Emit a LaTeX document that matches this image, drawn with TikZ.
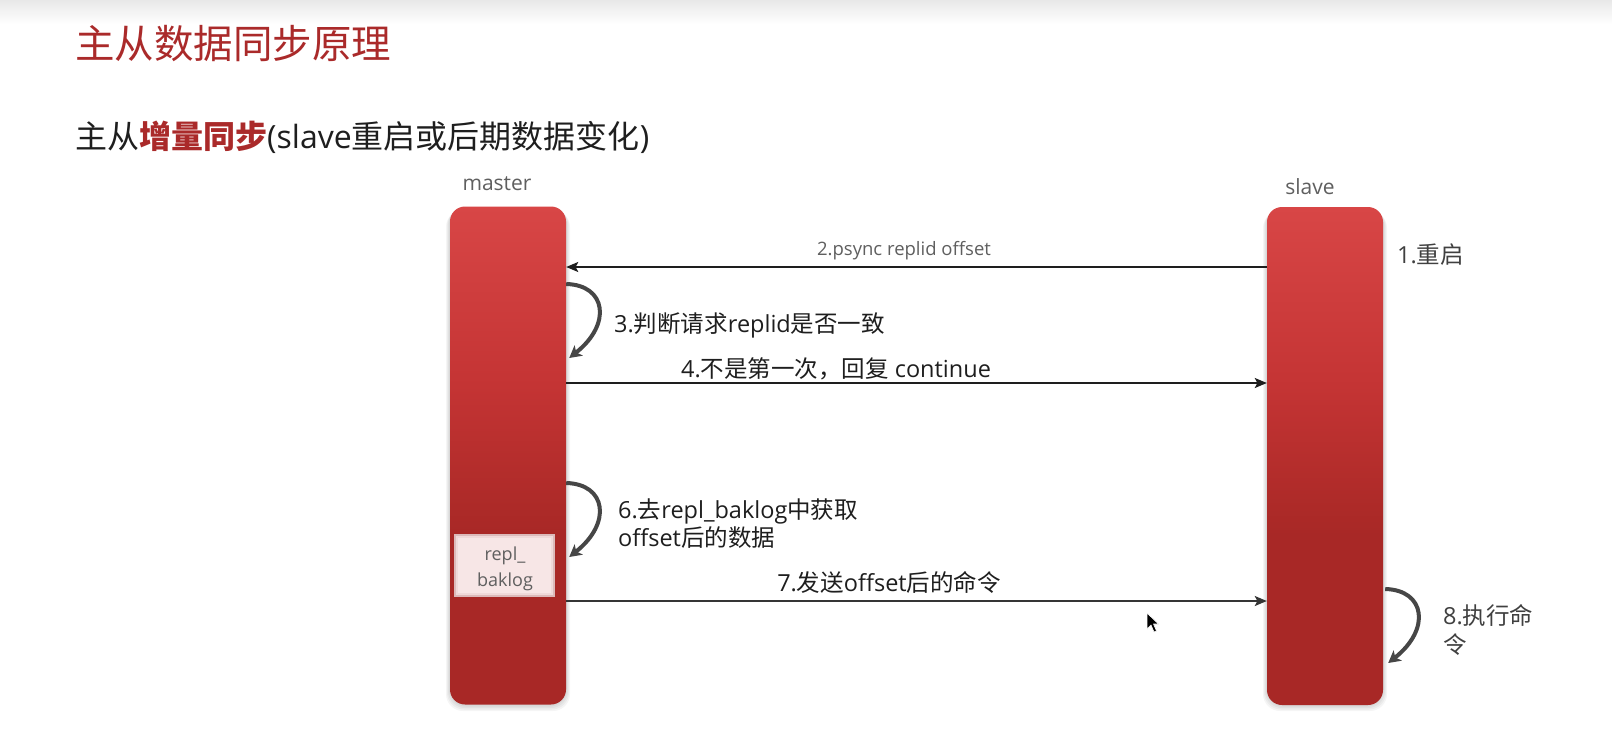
\documentclass[tikz,border=0pt]{standalone}
\usepackage{fontspec}
\setmainfont{Open Sans}
\newfontfamily\zhfont{Noto Sans CJK SC}
\newcommand{\zh}[1]{{\zhfont #1}}
\usetikzlibrary{arrows.meta,calc}

\definecolor{titlered}{RGB}{170,42,42}
\definecolor{barTop}{RGB}{216,70,70}
\definecolor{barUpper}{RGB}{196,52,52}
\definecolor{barLower}{RGB}{175,43,41}
\definecolor{barBottom}{RGB}{168,40,38}
\definecolor{ink}{RGB}{30,30,30}
\definecolor{softink}{RGB}{95,95,95}
\definecolor{loopgray}{RGB}{70,70,70}
\definecolor{logfill}{RGB}{247,230,230}
\definecolor{logedge}{RGB}{220,186,186}

% vertical colour ramp of the two process bars (25bp..75bp = bar extent)
\pgfdeclareverticalshading{barshade}{100bp}{color(0bp)=(barBottom); color(42bp)=(barBottom); color(46bp)=(barLower); color(57bp)=(barUpper); color(75bp)=(barTop); color(100bp)=(barTop)}

\tikzset{
  bar/.style={rectangle, rounded corners=15pt, minimum width=116pt, minimum height=498pt,
    inner sep=0pt, shade, shading=barshade},
  barshadow/.style={fill=black, opacity=0.04, rounded corners=17pt},
  msg/.style={line width=1.6pt, draw=ink, -{Stealth[length=12pt,width=10pt,inset=2.5pt]}},
  turn/.style={line width=4pt, draw=loopgray, -{Stealth[length=12pt,width=13pt,inset=3pt]}},
  lbl/.style={font=\fontsize{23.5}{28}\selectfont, text=ink, inner sep=0pt},
  smalllbl/.style={font=\fontsize{18.5}{22}\selectfont, text=softink, inner sep=0pt},
  rolelbl/.style={font=\fontsize{21}{25}\selectfont, text=softink, inner sep=0pt},
  turnloop/.pic={\draw[turn] (0,0) .. controls (40,1) and (46,40) .. (3,74);}
}

\begin{document}
\begin{tikzpicture}[x=1pt,y=-1pt]
  \useasboundingbox (0,0) rectangle (1612,731);
  \fill[white] (0,0) rectangle (1612,731);
  \shade[top color=black!9, bottom color=white] (0,0) rectangle (1612,24);

  % headings
  \node[anchor=west, inner sep=0pt, text=titlered, font=\zhfont\fontsize{39.5}{44}\selectfont] (title) at (75,44) {主从数据同步原理};
  \node[anchor=west, inner sep=0pt, text=ink, font=\fontsize{32}{36}\selectfont] (subtitle) at (75,137)
    {\zh{主从}{\zhfont\bfseries\color{titlered}增量同步}(slave\zh{重启或后期数据变化})};

  % soft shadows under the bars
  \foreach \g in {1,...,4} {
    \fill[barshadow] (450-\g,206+\g) rectangle (566+\g,705+1.5*\g);
    \fill[barshadow] (1267-\g,207+\g) rectangle (1383+\g,705+1.5*\g);
  }

  % process bars
  \node[bar] (master) at (508,455.5) {};
  \node[bar] (slave) at (1325,456) {};
  \node[rolelbl] (masterlbl) at (497,184) {master};
  \node[rolelbl] (slavelbl) at (1310,187) {slave};

  % backlog buffer inside master
  \fill[logedge] (454,534) rectangle (555,597);
  \fill[logfill!70!logedge] (456,536) rectangle (553,595);
  \fill[logfill] (458,538) rectangle (551,593);
  \node[font=\fontsize{18}{26}\selectfont, text=softink, align=center, inner sep=0pt] (baklog) at (505,569) {repl\_\\baklog};

  % row heights of the messages
  \coordinate (r2) at (0,267);
  \coordinate (r4) at (0,383);
  \coordinate (r7) at (0,601);

  % step 1
  \node[lbl, anchor=west, text=ink!85] (s1) at (1397,255) {1.\zh{重启}};

  % step 2
  \draw[msg] (slave.west |- r2) -- (master.east |- r2);
  \node[smalllbl] (s2) at (904,251) {2.psync replid offset};

  % step 3
  \pic at (master.east |- 0,284) {turnloop};
  \node[lbl, anchor=west] (s3) at (614,325) {3.\zh{判断请求}replid\zh{是否一致}};

  % step 4
  \draw[msg] (master.east |- r4) -- (slave.west |- r4);
  \node[lbl] (s4) at (836,369) {4.\zh{不是第一次，回复} continue};

  % step 6
  \pic at (master.east |- 0,483) {turnloop};
  \node[lbl, anchor=west, align=left] (s6) at (618,524) {6.\zh{去}repl\_baklog\zh{中获取}\\offset\zh{后的数据}};

  % step 7
  \draw[msg, draw=ink!90] (master.east |- r7) -- (slave.west |- r7);
  \node[lbl] (s7) at (889,582) {7.\zh{发送}offset\zh{后的命令}};

  % step 8
  \pic at ([xshift=2pt]slave.east |- 0,589) {turnloop};
  \node[lbl, anchor=west, align=left, text=ink!85, font=\fontsize{23.5}{29}\selectfont] (s8) at (1443,630) {8.\zh{执行命}\\\zh{令}};

  % mouse pointer
  \filldraw[fill=black, draw=white, line width=0.6pt, line join=round]
    (1147,613) -- (1147,629) -- (1151,625) -- (1154,632) -- (1156.5,631) -- (1153.5,624) -- (1158.5,624) -- cycle;
\end{tikzpicture}
\end{document}
